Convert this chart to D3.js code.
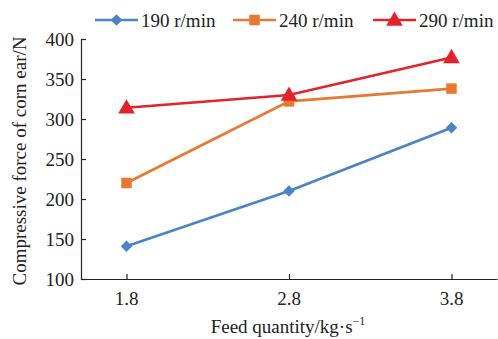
<!DOCTYPE html>
<html><head><meta charset="utf-8">
<script src="https://cdn.jsdelivr.net/npm/d3@7"></script>
<style>body{margin:0;background:#fff}svg{display:block}text{font-family:"Liberation Serif","Times New Roman",serif;fill:#222}</style>
</head><body>
<svg id="c" width="498" height="339"></svg>
<script>
const feed = [1.8, 2.8, 3.8];
const s190 = [141, 210, 289];
const s240 = [220, 322, 338];
const s290 = [314, 330, 377];
const seriesNames = ["190 r/min", "240 r/min", "290 r/min"];
const yTicks = [100, 150, 200, 250, 300, 350, 400];
const xTickLabels = ["1.8", "2.8", "3.8"];

const colors = ["#4a84c4", "#e8782f", "#e3232b"];
const symbols = [d3.symbolDiamond2, d3.symbolSquare, d3.symbolTriangle];
const symSizes = [85, 110, 120];
const series = [s190, s240, s290];

const svg = d3.select("#c");
const x = d3.scaleLinear().domain([1.52, 4.08]).range([81, 497]);
const y = d3.scaleLinear().domain([100, 400]).range([279, 39]);
const fs = 19;

// y axis
const ya = svg.append("g").attr("transform", "translate(81,0)")
  .call(d3.axisRight(y).tickValues(yTicks).tickSize(5).tickSizeOuter(0).tickFormat(""));
ya.selectAll("path,line").attr("stroke", "#222").attr("stroke-width", 1.2);
svg.append("g").selectAll("text").data(yTicks).join("text")
  .attr("x", 74).attr("y", d => y(d)).attr("dy", "0.35em")
  .attr("text-anchor", "end").attr("font-size", fs).text(d => d);

// x axis
const xa = svg.append("g").attr("transform", "translate(0,279)")
  .call(d3.axisTop(x).tickValues(feed).tickSize(5).tickSizeOuter(0).tickFormat(""));
xa.selectAll("path,line").attr("stroke", "#222").attr("stroke-width", 1.2);
svg.append("g").selectAll("text").data(feed).join("text")
  .attr("x", d => x(d)).attr("y", 305)
  .attr("text-anchor", "middle").attr("font-size", fs).text((d, i) => xTickLabels[i]);

// axis titles
const xt = svg.append("text").attr("x", 288).attr("y", 333).attr("text-anchor", "middle").attr("font-size", fs);
xt.append("tspan").text("Feed quantity/kg·s");
xt.append("tspan").attr("font-size", 12).attr("dy", -8).text("−1");

svg.append("text").attr("transform", "translate(26,161) rotate(-90)")
  .attr("text-anchor", "middle").attr("font-size", fs).text("Compressive force of corn ear/N");

// lines
const line = d3.line().x((d, i) => x(feed[i])).y(d => y(d));
series.forEach((s, k) => {
  svg.append("path").datum(s).attr("d", line).attr("fill", "none")
    .attr("stroke", colors[k]).attr("stroke-width", 2.6);
  svg.append("g").selectAll("path").data(s).join("path")
    .attr("transform", (d, i) => `translate(${x(feed[i])},${y(d) + (k === 2 ? 1 : 0)})`)
    .attr("d", d3.symbol().type(symbols[k]).size(symSizes[k]))
    .attr("fill", colors[k]);
});

// legend
const legX = [95, 233, 373];
seriesNames.forEach((n, k) => {
  const g = svg.append("g").attr("transform", `translate(${legX[k]},20)`);
  g.append("line").attr("x1", 0).attr("x2", 43).attr("stroke", colors[k]).attr("stroke-width", 2.6);
  g.append("path").attr("transform", `translate(21.5,${k === 2 ? 1 : 0})`)
    .attr("d", d3.symbol().type(symbols[k]).size(symSizes[k])).attr("fill", colors[k]);
  g.append("text").attr("x", 46).attr("y", 7).attr("font-size", fs).text(n);
});
</script>
</body></html>
